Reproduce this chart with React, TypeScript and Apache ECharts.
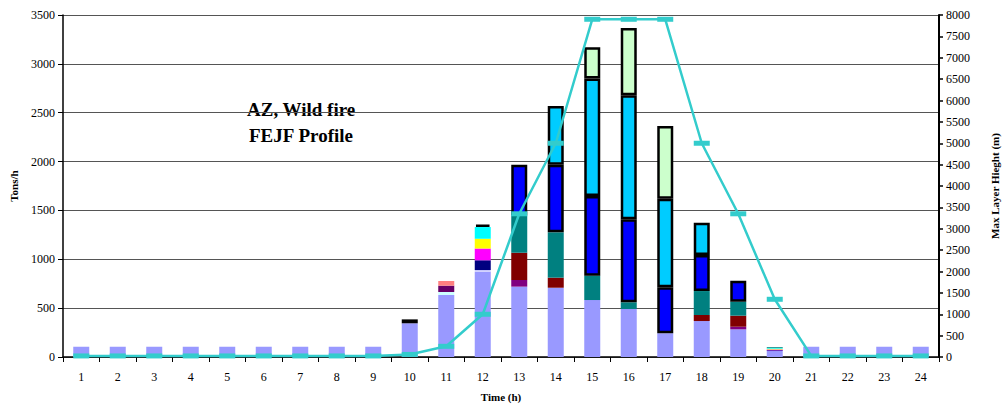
import React, { useEffect, useRef } from "react";
import * as echarts from "echarts";

const hours = ["1","2","3","4","5","6","7","8","9","10","11","12","13","14","15","16","17","18","19","20","21","22","23","24"];
const leftTicks = [0, 500, 1000, 1500, 2000, 2500, 3000, 3500];
const rightMax = 8000;

// stacked emission components (tons/h), bottom to top
const base =      [105,105,105,105,105,105,105,105,105,345,635,873,720,709,583,491,243,368,283,61,105,105,105,105];
const lightCyan = [null,null,null,null,null,null,null,null,null,null,30,null,null,null,null,null,null,null,null,null,null,null,null,null];
const periwinkle =[null,null,null,null,null,null,null,null,null,null,null,17,null,null,null,null,null,null,null,null,null,null,null,null];
const plum =      [null,null,null,null,null,null,null,null,null,null,65,null,null,null,null,null,null,null,null,null,null,null,null,null];
const coral =     [null,null,null,null,null,null,null,null,null,null,48,null,null,null,null,null,null,null,null,null,null,null,null,null];
const navy =      [null,null,null,null,null,null,null,null,null,null,null,100,null,null,null,null,null,null,null,8,null,null,null,null];
const magenta =   [null,null,null,null,null,null,null,null,null,null,null,120,null,null,null,null,null,null,null,8,null,null,null,null];
const yellow =    [null,null,null,null,null,null,null,null,null,null,null,100,null,null,null,null,null,null,null,8,null,null,null,null];
const aqua =      [null,null,null,null,null,null,null,null,null,null,null,120,null,null,null,null,null,null,null,8,null,null,null,null];
const rose =      [null,null,null,null,null,null,null,null,null,40,null,25,null,null,null,null,null,null,null,null,null,null,null,null];
const purple =    [null,null,null,null,null,null,null,null,null,null,null,null,68,null,null,null,null,null,27,null,null,null,null,null];
const maroon =    [null,null,null,null,null,null,null,null,null,null,null,null,279,103,null,null,null,62,113,null,null,null,null,null];
const teal =      [null,null,null,null,null,null,null,null,null,null,null,null,386,464,249,69,null,245,143,8,null,null,null,null];
const blue =      [null,null,null,null,null,null,null,null,null,null,null,null,515,692,815,849,470,369,215,null,null,null,null,null];
const skyBlue =   [null,null,null,null,null,null,null,null,null,null,null,null,null,601,1203,1271,907,331,null,null,null,null,null,null];
const paleGreen = [null,null,null,null,null,null,null,null,null,null,null,null,null,null,320,687,744,null,null,null,null,null,null,null];

// max layer height (m)
const layerHeight = [25,25,25,25,25,25,25,25,25,60,250,1000,3350,5000,7900,7900,7900,5000,3350,1350,25,25,25,25];

const stackDefs: [string, (number | null)[], string, boolean][] = [
  ["base", base, "#9999FF", false],
  ["lightCyan", lightCyan, "#CCFFFF", false],
  ["periwinkle", periwinkle, "#CCCCFF", false],
  ["plum", plum, "#660066", false],
  ["coral", coral, "#FF8080", false],
  ["navy", navy, "#000080", false],
  ["magenta", magenta, "#FF00FF", false],
  ["yellow", yellow, "#FFFF00", false],
  ["aqua", aqua, "#00FFFF", false],
  ["rose", rose, "#993366", true],
  ["purple", purple, "#800080", false],
  ["maroon", maroon, "#800000", false],
  ["teal", teal, "#008080", false],
  ["blue", blue, "#0000FF", true],
  ["skyBlue", skyBlue, "#00CCFF", true],
  ["paleGreen", paleGreen, "#CCFFCC", true],
];

const FONT = "Liberation Serif";
const plain = (v: number) => String(v);

export default function App() {
  const ref = useRef<HTMLDivElement>(null);
  useEffect(() => {
    if (!ref.current) return;
    const chart = echarts.init(ref.current, null, { renderer: "svg" });
    const barSeries = stackDefs.map(([name, data, color, bordered]) => ({
      name,
      type: "bar",
      stack: "emis",
      data,
      barWidth: 16,
      yAxisIndex: 0,
      itemStyle: bordered
        ? { color, borderColor: "#000", borderWidth: 2.5 }
        : { color, borderWidth: 0 },
      z: 2,
    }));
    chart.setOption({
      animation: false,
      textStyle: { fontFamily: FONT },
      grid: { left: 63, right: 64, top: 15, bottom: 53 },
      xAxis: {
        type: "category",
        data: hours,
        boundaryGap: true,
        name: "Time (h)",
        nameLocation: "middle",
        nameGap: 34,
        nameTextStyle: { fontFamily: FONT, fontWeight: "bold", fontSize: 11, color: "#000" },
        axisLine: { lineStyle: { color: "#000", width: 1.5 } },
        axisTick: { show: true, inside: false, length: 5, alignWithLabel: false, lineStyle: { color: "#000" } },
        axisLabel: { fontFamily: FONT, fontSize: 12, color: "#000", margin: 14, interval: 0 },
      },
      yAxis: [
        {
          type: "value",
          min: leftTicks[0],
          max: leftTicks[leftTicks.length - 1],
          interval: 500,
          name: "Tons/h",
          nameLocation: "middle",
          nameRotate: 90,
          nameGap: 44,
          nameTextStyle: { fontFamily: FONT, fontWeight: "bold", fontSize: 11, color: "#000" },
          axisLine: { show: true, lineStyle: { color: "#000", width: 1.5 } },
          axisTick: { show: true, inside: false, length: 5, lineStyle: { color: "#000" } },
          axisLabel: { fontFamily: FONT, fontSize: 12, color: "#000", margin: 8, formatter: plain },
          splitLine: { show: true, lineStyle: { color: "#555", width: 1.2 } },
        },
        {
          type: "value",
          position: "right",
          min: 0,
          max: rightMax,
          interval: 500,
          name: "Max Layer Hieght (m)",
          nameLocation: "middle",
          nameRotate: 90,
          nameGap: 50,
          nameTextStyle: { fontFamily: FONT, fontWeight: "bold", fontSize: 11, color: "#000" },
          axisLine: { show: true, lineStyle: { color: "#000", width: 2 } },
          axisTick: { show: true, inside: false, length: 4, lineStyle: { color: "#000", width: 1.5 } },
          axisLabel: { fontFamily: FONT, fontSize: 12, color: "#000", margin: 7, formatter: plain },
          splitLine: { show: false },
        },
      ],
      series: [
        ...barSeries,
        {
          name: "Max Layer Height",
          type: "line",
          yAxisIndex: 1,
          data: layerHeight,
          symbol: "rect",
          symbolSize: [16, 5],
          showAllSymbol: true,
          lineStyle: { color: "#33CCCC", width: 2.5 },
          itemStyle: { color: "#33CCCC", borderWidth: 0 },
          z: 5,
        },
      ],
      graphic: [
        {
          type: "text",
          left: 309 - 62,
          top: 100,
          style: {
            text: "AZ, Wild fire",
            font: `bold 19px ${FONT}`,
            fill: "#000",
          },
        },
        {
          type: "text",
          left: 309 - 60,
          top: 126,
          style: {
            text: "FEJF Profile",
            font: `bold 19px ${FONT}`,
            fill: "#000",
          },
        },
      ],
    });
    return () => chart.dispose();
  }, []);
  return <div ref={ref} style={{ width: 1008, height: 410, position: "absolute", left: 0, top: 0 }} />;
}
